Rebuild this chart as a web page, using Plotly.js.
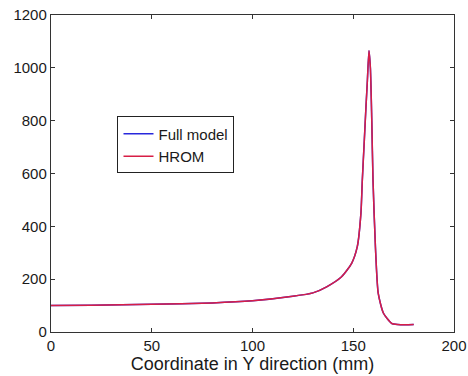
<!DOCTYPE html>
<html>
<head>
<meta charset="utf-8">
<script src="https://cdn.plot.ly/plotly-3.0.1.min.js"></script>
<style>body{margin:0;background:#fff}#chart{width:468px;height:376px}</style>
</head>
<body>
<div id="chart"></div>
<script>
const yCoord = [0, 20, 50, 80, 100, 120, 130, 136.8, 144.2, 149.2, 152, 153.8, 154.5, 155.5, 156.3, 157, 157.8, 158.5, 159.2, 159.8, 161, 162.4, 165, 169, 172, 176, 180];
const fullModel = [100, 101, 105, 110, 118, 135, 148, 171, 209, 260, 323, 449, 575, 727, 850, 950, 1065, 1000, 800, 575, 323, 146, 71, 33, 28, 27, 28];
const hrom = [100, 101, 105, 110, 118, 135, 148, 171, 209, 260, 323, 449, 575, 727, 850, 950, 1065, 1000, 800, 575, 323, 146, 71, 33, 28, 27, 28];
const seriesNames = ["Full model", "HROM"];

const traces = [
  {x: yCoord, y: fullModel, name: seriesNames[0], mode: "lines", line: {color: "rgb(40,40,220)", width: 1.5, shape: "spline", smoothing: 0.6}},
  {x: yCoord, y: hrom, name: seriesNames[1], mode: "lines", line: {color: "rgb(215,30,70)", width: 1.5, shape: "spline", smoothing: 0.6}}
];
const axisCommon = {
  showgrid: false, zeroline: false, showline: true, linecolor: "#333", linewidth: 1.2,
  mirror: "ticks", ticks: "inside", ticklen: 4, tickcolor: "#333",
  tickfont: {family: "Liberation Sans, Arial, sans-serif", size: 15, color: "#1a1a1a"}
};
const layout = {
  width: 468, height: 376,
  margin: {l: 51, r: 14, t: 15, b: 44},
  paper_bgcolor: "#fff", plot_bgcolor: "#fff",
  xaxis: Object.assign({}, axisCommon, {range: [0, 200], tickvals: [0, 50, 100, 150, 200], ticklabelstandoff: 0,
    title: {text: "Coordinate in Y direction (mm)", standoff: 0, font: {family: "Liberation Sans, Arial, sans-serif", size: 18, color: "#1a1a1a"}}}),
  yaxis: Object.assign({}, axisCommon, {range: [0, 1200], tickvals: [0, 200, 400, 600, 800, 1000, 1200]}),
  showlegend: true,
  legend: {x: 0.165, y: 0.68, xanchor: "left", yanchor: "top", bgcolor: "#fff", bordercolor: "#222", borderwidth: 1,
    font: {family: "Liberation Sans, Arial, sans-serif", size: 15, color: "#1a1a1a"}, tracegroupgap: 0, itemwidth: 30}
};
Plotly.newPlot("chart", traces, layout, {displayModeBar: false, staticPlot: true});
</script>
</body>
</html>
